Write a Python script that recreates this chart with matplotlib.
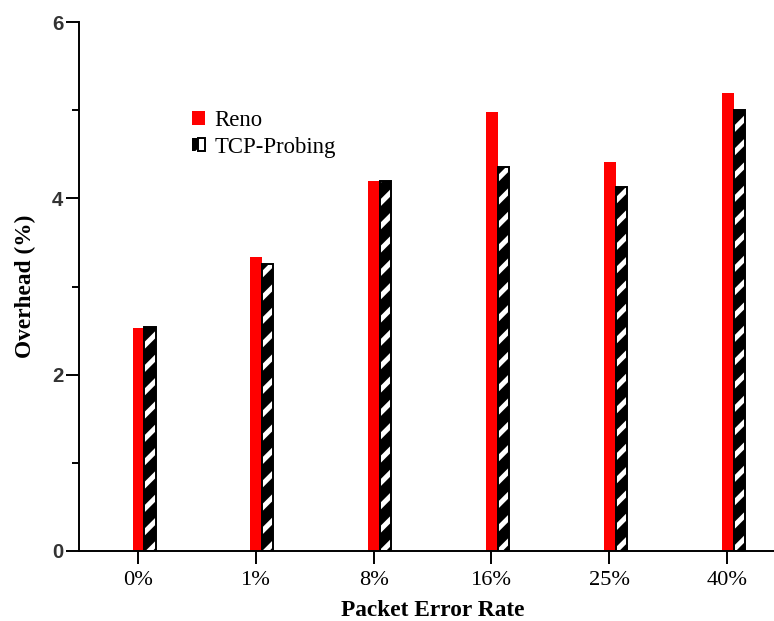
import numpy as np
import matplotlib
matplotlib.use('Agg')
import matplotlib.pyplot as plt
from matplotlib.legend_handler import HandlerTuple

# packet error rate categories and overhead (%) per TCP variant
rates = ['0%', '1%', '8%', '16%', '25%', '40%']
reno = [2.53, 3.33, 4.20, 4.98, 4.41, 5.20]
probing = [2.54, 3.25, 4.20, 4.36, 4.13, 5.00]

plt.rcParams['hatch.linewidth'] = 2.6

DPI = 140
fig = plt.figure(figsize=(774 / DPI, 621 / DPI), dpi=DPI)
ax = fig.add_axes([79 / 774, 70 / 621, 707 / 774, 529 / 621])

x = np.arange(len(rates))
r = ax.bar(x - 0.045, reno, 0.10, align='edge', color='#ff0000', linewidth=0)
# black bar with white diagonal strokes, then a black outline on top
p_fill = ax.bar(x + 0.055, probing, 0.095, align='edge', color='black',
                edgecolor='white', linewidth=0, hatch='//')
p_edge = ax.bar(x + 0.055, probing, 0.095, align='edge', fill=False,
                edgecolor='black', linewidth=1.0)

ax.set_xlim(-0.5, 5.5)
ax.set_ylim(0, 6)
ax.set_xticks(x)
ax.set_xticklabels(rates, family='Liberation Serif', fontsize=11.5)
ax.set_yticks([0, 2, 4, 6])
ax.set_yticks([1, 3, 5], minor=True)
for lab in ax.get_yticklabels():
    lab.set_family('Liberation Sans')
    lab.set_fontweight('bold')
    lab.set_fontsize(10.5)
    lab.set_color('#333333')

ax.tick_params(axis='both', which='major', direction='out', length=6.5, width=1.0)
ax.tick_params(axis='y', which='minor', direction='out', length=3.5, width=1.0)
ax.tick_params(axis='x', pad=4)
ax.tick_params(axis='y', pad=1.5)

for s in ['top', 'right']:
    ax.spines[s].set_visible(False)
for s in ['left', 'bottom']:
    ax.spines[s].set_linewidth(1.0)

ax.set_xlabel('Packet Error Rate', family='Liberation Serif', fontweight='bold',
              fontsize=12, labelpad=5)
ax.set_ylabel('Overhead (%)', family='Liberation Serif', fontweight='bold',
              fontsize=12, labelpad=8)

ax.legend([r[0], (p_fill[0], p_edge[0])], ['Reno', 'TCP-Probing'],
          handler_map={tuple: HandlerTuple(ndivide=None, pad=0)},
          loc='upper left', bbox_to_anchor=(0.147, 0.851), frameon=False,
          prop={'family': 'Liberation Serif', 'size': 11.7},
          handlelength=0.55, handleheight=0.55, handletextpad=0.45,
          labelspacing=0.25, borderaxespad=0)

fig.savefig('out.png', dpi=DPI)
